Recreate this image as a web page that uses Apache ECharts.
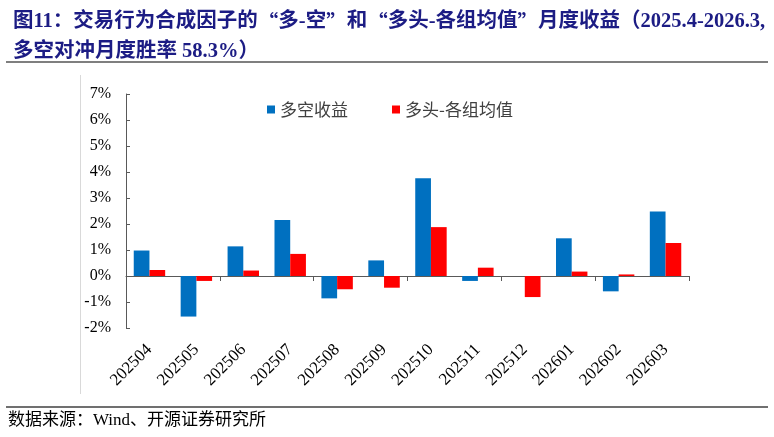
<!DOCTYPE html>
<html>
<head>
<meta charset="utf-8">
<script src="https://cdn.jsdelivr.net/npm/echarts@6/dist/echarts.min.js"></script>
<style>
html,body{margin:0;padding:0;background:#fff;}
#chart{width:774px;height:437px;}
</style>
</head>
<body>
<div id="chart"></div>
<script>
var categories = ['202504','202505','202506','202507','202508','202509','202510','202511','202512','202601','202602','202603'];
var longShort = [0.98, -1.56, 1.14, 2.15, -0.86, 0.60, 3.76, -0.19, 0.00, 1.45, -0.59, 2.48];
var longMinusAvg = [0.23, -0.19, 0.21, 0.85, -0.51, -0.45, 1.88, 0.32, -0.81, 0.17, 0.06, 1.27];
var seriesNames = ['多空收益', '多头-各组均值'];

var serif = "'Liberation Serif', 'Times New Roman', 'Noto Sans CJK SC', serif";
var chart = echarts.init(document.getElementById('chart'));
var option = {
  backgroundColor: '#fff',
  animation: false,
  title: {
    left: 8,
    top: 2,
    text: '图11：交易行为合成因子的{q|“}多-空{q|”}和{q|“}多头-各组均值{q|”}月度收益（2025.4-2026.3,\n多空对冲月度胜率 58.3%）',
    textStyle: {
      fontFamily: serif,
      fontWeight: 'bold',
      fontSize: 20.5,
      color: '#1c1c84',
      lineHeight: 29.5,
      rich: {
        q: { fontFamily: "'Noto Sans CJK SC'", fontWeight: 'bold', fontSize: 20.5, color: '#1c1c84', lineHeight: 29.5 }
      }
    }
  },
  legend: {
    left: 262,
    top: 96,
    icon: 'rect',
    itemWidth: 8,
    itemHeight: 8,
    itemGap: 44,
    itemTextGap: 7,
    textStyle: { fontFamily: "'Noto Sans CJK SC'", fontSize: 17, color: '#404040' },
    data: seriesNames
  },
  grid: { left: 126, right: 85, top: 94, bottom: 109 },
  xAxis: [
    {
      type: 'category',
      data: categories,
      position: 'bottom',
      axisLine: { show: false, onZero: false },
      axisTick: { show: false },
      axisLabel: { rotate: 45, margin: 19, fontFamily: serif, fontSize: 17, color: '#000', interval: 0 }
    },
    {
      type: 'category',
      data: categories,
      axisLine: { show: true, onZero: true, lineStyle: { color: '#595959', width: 1 } },
      axisTick: { show: true, inside: true, length: 5, lineStyle: { color: '#595959' } },
      axisLabel: { show: false }
    }
  ],
  yAxis: {
    type: 'value',
    min: -2,
    max: 7,
    interval: 1,
    axisLine: { show: true, lineStyle: { color: '#595959', width: 1 } },
    axisTick: { show: true, inside: true, length: 4, lineStyle: { color: '#595959' } },
    splitLine: { show: false },
    axisLabel: { formatter: '{value}%', margin: 15, fontFamily: serif, fontSize: 16, color: '#000' }
  },
  series: [
    {
      name: seriesNames[0],
      type: 'bar',
      xAxisIndex: 0,
      data: longShort,
      barGap: '0%',
      barCategoryGap: '33%',
      itemStyle: { color: '#0070c0' }
    },
    {
      name: seriesNames[1],
      type: 'bar',
      xAxisIndex: 0,
      data: longMinusAvg,
      barGap: '0%',
      barCategoryGap: '33%',
      itemStyle: { color: '#ff0000' }
    }
  ],
  graphic: [
    { type: 'line', shape: { x1: 6, y1: 62, x2: 768, y2: 62 }, style: { stroke: '#7f7f7f', lineWidth: 2 } },
    { type: 'line', shape: { x1: 6, y1: 407, x2: 768, y2: 407 }, style: { stroke: '#404040', lineWidth: 1.5 } },
    { type: 'line', shape: { x1: 80.5, y1: 75, x2: 80.5, y2: 394 }, style: { stroke: '#d9d9d9', lineWidth: 1 } },
    { type: 'text', left: 8, top: 412, style: { text: '数据来源：Wind、开源证券研究所', fontFamily: serif, fontSize: 17, fill: '#000' } }
  ]
};
chart.setOption(option);
</script>
</body>
</html>
